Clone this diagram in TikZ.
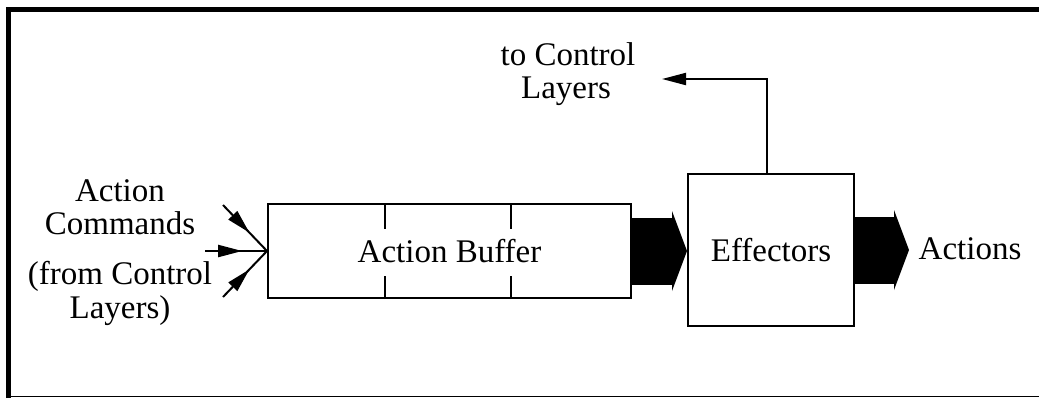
\documentclass[tikz,border=0pt]{standalone}
\usepackage{fontspec}
\setmainfont{Liberation Serif}
\usetikzlibrary{arrows.meta,decorations.markings,calc}
\begin{document}
\begin{tikzpicture}[x=0.5pt,y=-0.5pt,
  every node/.style={font=\fontsize{16.5}{16.5}\selectfont},
  box/.style={draw,line width=1pt,inner sep=0pt},
  txt/.style={anchor=base,inner sep=0pt},
  thinline/.style={line width=1pt},
  inarrow/.style={line width=1pt,postaction={decorate},
    decoration={markings,mark=at position 0.6 with {\arrow{Triangle[length=12pt,width=6pt]}}}},
  fatarrow/.style={line width=33.5pt,-{Triangle[length=7.5pt,width=40pt,line width=0pt]}},
]
\useasboundingbox (0,0) rectangle (1039,398);

% outer frame
\draw[line width=2.5pt] (8.5,398) -- (8.5,9.5) -- (1039,9.5);
\draw[line width=0.75pt] (8.5,396.5) -- (1039,396.5);

% action buffer with its slot ticks
\node[box,minimum width=181.5pt,minimum height=47pt] (buf) at (449.5,251) {Action Buffer};
\draw[thinline] (385,0 |- buf.north) -- ++(0,26);
\draw[thinline] (511,0 |- buf.north) -- ++(0,26);
\draw[thinline] (385,0 |- buf.south) -- ++(0,-23);
\draw[thinline] (511,0 |- buf.south) -- ++(0,-23);

% effectors
\node[box,minimum width=83pt,minimum height=76pt] (eff) at (771,250) {Effectors};

% broad flow arrows
\draw[fatarrow] (buf.east) -- (buf.east -| eff.west);
\coordinate (out) at (909,250);
\draw[fatarrow] (eff.east) -- (eff.east -| out);
\node[txt] (act) at (970,259) {Actions};

% feedback to the control layers
\coordinate (bend) at (767,79);
\coordinate (toCL) at (662,79);
\draw[line width=1pt,-{Triangle[length=12pt,width=6pt]}] (eff.north -| bend) -- (bend) -- (toCL);
\node[txt] (t1) at (568,65) {to Control};
\node[txt] (t2) at (566,98) {Layers};

% incoming action commands
\node[txt] (c1) at (120,201) {Action};
\node[txt] (c2) at (120,234) {Commands};
\node[txt] (c3) at (120,284) {(from Control};
\node[txt] (c4) at (120,318) {Layers)};
\coordinate (s1) at (223,205);
\coordinate (s2) at (205,251);
\coordinate (s3) at (223,297);
\draw[inarrow] (s1) -- (buf.west);
\draw[inarrow] (s2) -- (buf.west);
\draw[inarrow] (s3) -- (buf.west);
\end{tikzpicture}
\end{document}
